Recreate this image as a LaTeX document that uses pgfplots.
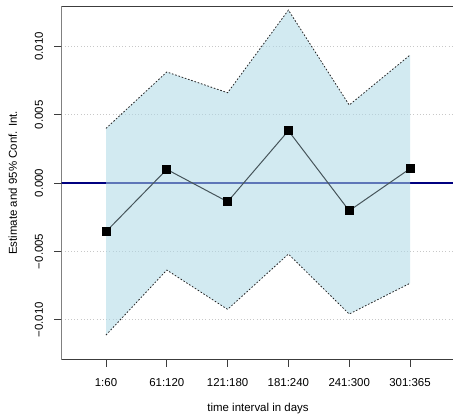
\documentclass[border=0pt]{standalone}
\usepackage{pgfplots}
\pgfplotsset{compat=1.18}
\usepackage{fontspec}
\setmainfont{Liberation Sans}

\definecolor{ciband}{RGB}{173,216,230}
\definecolor{refline}{RGB}{0,0,128}
\definecolor{estline}{RGB}{70,85,90}
\definecolor{framecol}{RGB}{60,60,60}
\definecolor{gridcol}{RGB}{200,200,200}

% interval, estimate, lower and upper 95% limits
\pgfplotstableread{
idx est      lo       hi
1  -0.00356 -0.01113 0.00400
2   0.00100 -0.00637 0.00813
3  -0.00137 -0.00925 0.00661
4   0.00383 -0.00520 0.01266
5  -0.00203 -0.00959 0.00571
6   0.00105 -0.00734 0.00937
}\estdata

\begin{document}
\begin{tikzpicture}
\begin{axis}[
  at={(0,0)}, anchor=south west,
  scale only axis, width=391.5bp, height=353.2bp,
  xmin=0.268, xmax=6.707, ymin=-0.01292, ymax=0.01294,
  axis line style={draw=none},
  clip=true,
  scaled ticks=false,
  xtick={1,2,3,4,5,6},
  xticklabels={1:60,61:120,121:180,181:240,241:300,301:365},
  ytick={-0.010,-0.005,0,0.005,0.010},
  yticklabels={−0.010,−0.005,0.000,0.005,0.010},
  tick pos=left,
  tick align=outside, major tick length=7.2bp,
  tick style={framecol, line width=0.8bp},
  ymajorgrids,
  major grid style={gridcol, dash pattern=on 1bp off 2.2bp, line width=0.8bp},
  xticklabel style={font=\fontsize{11.5}{13}\selectfont, anchor=north, inner sep=0pt},
  xticklabel shift=12bp,
  yticklabel style={font=\fontsize{11.5}{13}\selectfont, rotate=90, anchor=south, inner sep=0pt},
  yticklabel shift=11bp,
  xlabel={time interval in days},
  xlabel style={font=\fontsize{11.5}{13}\selectfont, at={([yshift=-51.9bp]rel axis cs:0.502,0)}, anchor=base, inner sep=0pt},
  ylabel={Estimate and 95\% Conf. Int.},
  ylabel style={font=\fontsize{11.5}{13}\selectfont, at={([xshift=-44.5bp]rel axis cs:0,0.5)}, rotate=0, anchor=base, inner sep=0pt},
]
% reference line at zero
\addplot[refline, line width=2bp] coordinates {(0.2,0) (6.8,0)};
% confidence band
\addplot[draw=none, fill=ciband, fill opacity=0.55]
  coordinates {(1,0.00400) (2,0.00813) (3,0.00661) (4,0.01266) (5,0.00571) (6,0.00937)
               (6,-0.00734) (5,-0.00959) (4,-0.00520) (3,-0.00925) (2,-0.00637) (1,-0.01113)} --cycle;
% band limits
\addplot[black!85, line width=0.8bp, dash pattern=on 1.6bp off 1.8bp] table[x=idx, y=hi] {\estdata};
\addplot[black!85, line width=0.8bp, dash pattern=on 1.6bp off 1.8bp] table[x=idx, y=lo] {\estdata};
% estimates
\addplot[estline, line width=1bp, mark=square*, mark size=4bp,
  mark options={solid, fill=black, draw=black, line width=0pt}] table[x=idx, y=est] {\estdata};
% frame: left, top and bottom sides
\draw[framecol, line width=1bp] (rel axis cs:1,1) -- (rel axis cs:0,1) -- (rel axis cs:0,0) -- (rel axis cs:1,0);
\end{axis}
\pgfresetboundingbox
\useasboundingbox (-61.5bp,-59.5bp) rectangle (391.5bp,359.5bp);
\end{tikzpicture}
\end{document}
